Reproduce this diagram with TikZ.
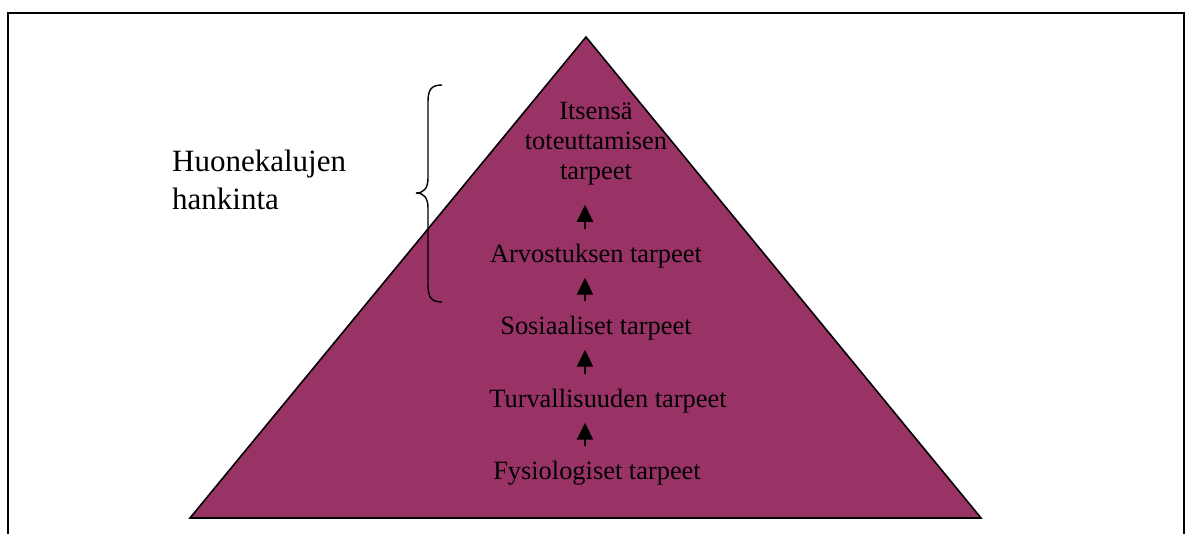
\documentclass[tikz,border=0pt]{standalone}
\usepackage{fontspec}
\setmainfont{Liberation Serif}
\usetikzlibrary{arrows.meta}
\definecolor{plum}{RGB}{153,51,102}
\tikzset{
  lvl/.style={inner sep=0pt, anchor=base, text height=18pt, text depth=6pt, font=\fontsize{26.4}{30}\selectfont},
  upar/.style={line width=2pt, -{Triangle[width=16pt,length=17pt]}, shorten <=15.5pt, shorten >=8.5pt},
  frame/.style={line width=1.6pt},
}
\begin{document}
\begin{tikzpicture}[x=1pt,y=-1pt]
\useasboundingbox (0,0) rectangle (1187,534);
\draw[frame] (8,534) -- (8,13) -- (1184,13) -- (1184,534);
% pyramid
\coordinate (apex) at (586,37);
\coordinate (bl) at (190,518);
\coordinate (br) at (981,518);
\filldraw[fill=plum, draw=black, line width=1.6pt, line join=miter] (apex) -- (br) -- (bl) -- cycle;
% levels
\node[inner sep=0pt, anchor=base, align=center, font=\fontsize{26.4}{30}\selectfont] (top) at (596,180) {Itsensä\\toteuttamisen\\tarpeet};
\node[lvl] (arv) at (596,263) {Arvostuksen tarpeet};
\node[lvl] (sos) at (596,335) {Sosiaaliset tarpeet};
\node[lvl] (tur) at (608,408) {Turvallisuuden tarpeet};
\node[lvl] (fys) at (597,480) {Fysiologiset tarpeet};
\coordinate (ax) at (585,0);
\draw[upar, shorten >=19pt] (ax |- arv.north) -- (ax |- top.south);
\draw[upar] (ax |- sos.north) -- (ax |- arv.south);
\draw[upar] (ax |- tur.north) -- (ax |- sos.south);
\draw[upar] (ax |- fys.north) -- (ax |- tur.south);
% brace
\coordinate (btop) at (442,85);
\coordinate (btip) at (416,193);
\coordinate (bbot) at (442,302);
\draw[line width=1.4pt] (btop) .. controls (431,85) and (428,90) .. (428,102) -- (428,178)
  .. controls (428,188) and (424,193) .. (btip)
  .. controls (424,193) and (428,198) .. (428,208) -- (428,285)
  .. controls (428,297) and (431,302) .. (bbot);
\node[inner sep=0pt, anchor=base west, align=left, font=\fontsize{31}{38}\selectfont] (hk) at (172,210) {Huonekalujen\\hankinta};
\end{tikzpicture}
\end{document}
